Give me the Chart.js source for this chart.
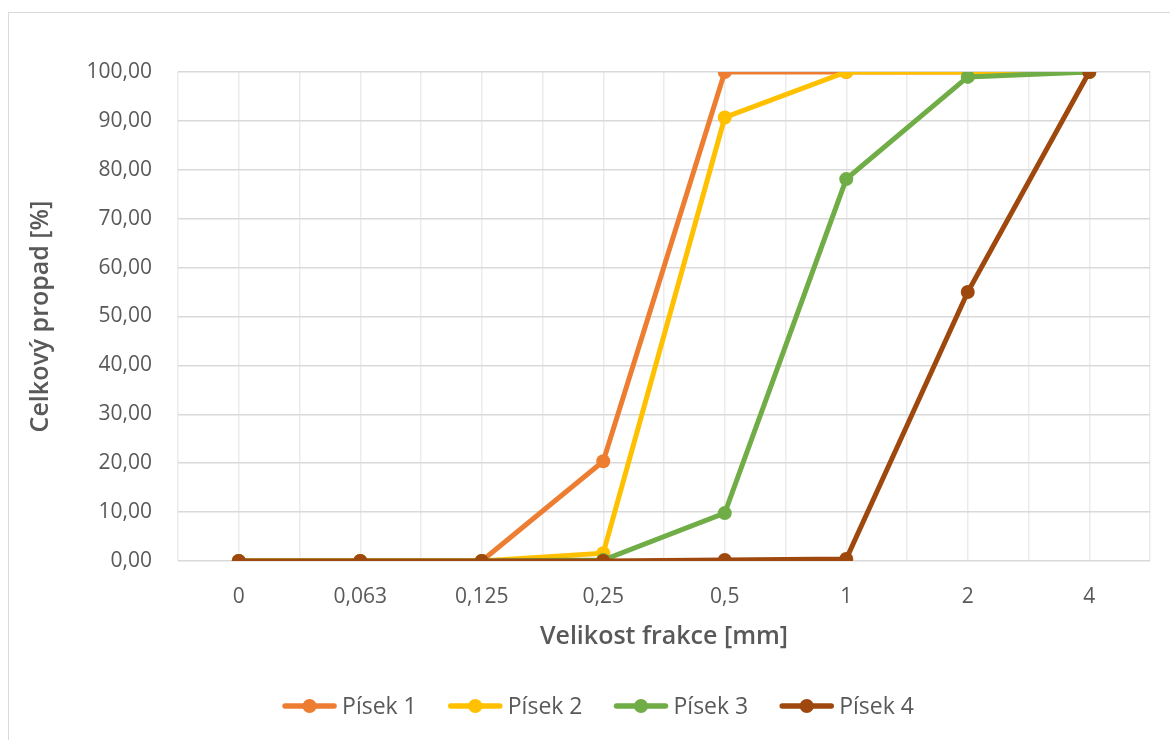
<!DOCTYPE html>
<html lang="cs">
<head>
<meta charset="utf-8">
<title>Celkový propad</title>
<script src="https://cdn.jsdelivr.net/npm/chart.js@4/dist/chart.umd.min.js"></script>
<style>
  html, body { margin: 0; padding: 0; background: #fff; overflow: hidden; }
  #frame { position: absolute; left: 8px; top: 12px; width: 1200px; height: 800px;
           border: 1px solid #d9d9d9; box-sizing: border-box; }
  #wrap { position: absolute; left: 0; top: 0; width: 1170px; height: 740px; }
</style>
</head>
<body>
<div id="frame"></div>
<div id="wrap"><canvas id="chart" width="1170" height="740"></canvas></div>
<script>
// Sieve sizes (mm) and cumulative passing (%) for four sands
const categories = ['0', '0,063', '0,125', '0,25', '0,5', '1', '2', '4'];
const pisek1 = [0, 0, 0, 20.4, 100, 100, 100, 100];
const pisek2 = [0, 0, 0, 1.6, 90.7, 100, 100, 100];
const pisek3 = [0, 0, 0, 0.2, 9.8, 78.1, 99.0, 100];
const pisek4 = [0, 0, 0, 0, 0.2, 0.4, 55.0, 100];
const seriesNames = ['Písek 1', 'Písek 2', 'Písek 3', 'Písek 4'];
const seriesColors = ['#ED7D31', '#FFC000', '#70AD47', '#9E480E'];
const yTicks = [0, 10, 20, 30, 40, 50, 60, 70, 80, 90, 100];

const FONT = '"Open Sans", "Noto Sans", sans-serif';
const TEXT = '#595959';

const seriesValues = [pisek1, pisek2, pisek3, pisek4];
const datasets = seriesValues.map((vals, i) => ({
  label: seriesNames[i],
  data: vals,
  borderColor: seriesColors[i],
  backgroundColor: seriesColors[i],
  pointBackgroundColor: seriesColors[i],
  pointBorderColor: seriesColors[i],
  borderWidth: 5,
  pointRadius: 7,
  pointBorderWidth: 0,
  tension: 0,
  order: seriesValues.length - i
}));

// Legend drawn as line + marker samples centred below the plot
const lineLegend = {
  id: 'lineLegend',
  afterDraw(chart) {
    const ctx = chart.ctx;
    ctx.save();
    ctx.font = '23px ' + FONT;
    const sampleW = 55, gap = 5, spacing = 31;
    const widths = seriesNames.map(n => sampleW + gap + ctx.measureText(n).width);
    const total = widths.reduce((a, b) => a + b, 0) + spacing * (widths.length - 1);
    let x = 598 - total / 2;
    const y = 706;
    seriesNames.forEach((name, i) => {
      ctx.strokeStyle = seriesColors[i];
      ctx.fillStyle = seriesColors[i];
      ctx.lineWidth = 5.5;
      ctx.lineCap = 'round';
      ctx.beginPath();
      ctx.moveTo(x + 3, y);
      ctx.lineTo(x + sampleW - 3, y);
      ctx.stroke();
      ctx.beginPath();
      ctx.arc(x + sampleW / 2, y, 7, 0, Math.PI * 2);
      ctx.fill();
      ctx.fillStyle = TEXT;
      ctx.textBaseline = 'middle';
      ctx.textAlign = 'left';
      ctx.fillText(name, x + sampleW + gap, y + 1);
      x += widths[i] + spacing;
    });
    ctx.restore();
  }
};

new Chart(document.getElementById('chart'), {
  type: 'line',
  data: { labels: categories, datasets },
  plugins: [lineLegend],
  options: {
    responsive: false,
    animation: false,
    layout: { padding: { left: 26, right: 20, top: 72, bottom: 88 } },
    plugins: { legend: { display: false }, tooltip: { enabled: false } },
    scales: {
      x: {
        type: 'category',
        offset: true,
        afterFit(s) { s.height = 91; },
        grid: { offset: true, color: '#ebebeb', lineWidth: 1.5, drawTicks: false },
        border: { display: false },
        ticks: { color: TEXT, font: { family: FONT, size: 21 }, padding: 23, maxRotation: 0 },
        title: { display: true, text: 'Velikost frakce [mm]', color: TEXT,
                 font: { family: FONT, size: 25, weight: '600' }, padding: { top: 0, bottom: 0 } }
      },
      xc: {
        type: 'category',
        position: 'bottom',
        offset: true,
        grid: { offset: false, color: '#ebebeb', lineWidth: 1.5, drawTicks: false },
        border: { display: false },
        ticks: { display: false },
        afterFit(s) { s.height = 0; }
      },
      y: {
        min: 0, max: 100,
        afterBuildTicks(s) { s.ticks = yTicks.map(v => ({ value: v })); },
        afterFit(s) { s.width = 152; },
        grid: { color: '#d9d9d9', lineWidth: 1.5, drawTicks: false },
        border: { display: false },
        ticks: {
          color: TEXT, font: { family: FONT, size: 21 }, padding: 26,
          callback: v => v.toFixed(2).replace('.', ',')
        },
        title: { display: true, text: 'Celkový propad [%]', color: TEXT,
                 font: { family: FONT, size: 25, weight: '600' }, padding: { top: 0, bottom: 0 } }
      }
    }
  }
});
</script>
</body>
</html>
